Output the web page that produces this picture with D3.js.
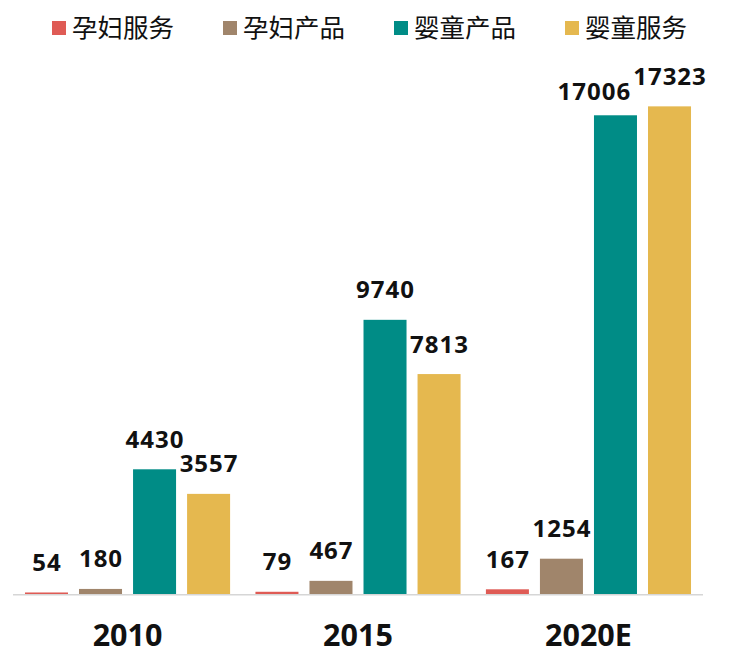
<!DOCTYPE html>
<html>
<head>
<meta charset="utf-8">
<script src="https://cdn.jsdelivr.net/npm/d3@7"></script>
<style>
  body { margin: 0; background: #fff; }
  text { font-family: "Open Sans", "Noto Sans", sans-serif; }
  .legend text { font-family: "Noto Sans CJK SC", sans-serif; }
</style>
</head>
<body>
<div id="chart"></div>
<script>
//data
var years = ["2010", "2015", "2020E"];
var seriesNames = ["孕妇服务", "孕妇产品", "婴童产品", "婴童服务"];
var seriesColors = ["#df5b55", "#a0856b", "#008c86", "#e5b84f"];
var pregnantService = [54, 79, 167];
var pregnantProduct = [180, 467, 1254];
var babyProduct = [4430, 9740, 17006];
var babyService = [3557, 7813, 17323];
var seriesValues = [pregnantService, pregnantProduct, babyProduct, babyService];

var width = 747, height = 671;

var svg = d3.select("#chart").append("svg")
    .attr("width", width)
    .attr("height", height);

//scales
var x0 = d3.scaleBand().domain(years).range([13, 703])
    .paddingInner(0.11).paddingOuter(0.052);
var x1 = d3.scaleBand().domain(d3.range(seriesNames.length)).range([0, x0.bandwidth()])
    .paddingInner(0.204);
var y = d3.scaleLinear().domain([0, 20000]).range([594, 31]);

//bars
var groups = svg.selectAll(".group")
    .data(years)
    .enter().append("g")
    .attr("class", "group")
    .attr("transform", d => "translate(" + x0(d) + ",0)");

groups.selectAll("rect")
    .data((d, gi) => seriesValues.map((s, si) => ({si: si, v: s[gi]})))
    .enter().append("rect")
    .attr("x", d => x1(d.si))
    .attr("width", x1.bandwidth())
    .attr("y", d => y(d.v))
    .attr("height", d => y(0) - y(d.v))
    .attr("fill", d => seriesColors[d.si]);

//value labels; when two collide the left one is nudged aside (like excel does)
groups.each(function(yr, gi) {
    var g = d3.select(this);
    var labels = seriesValues.map((s, si) => ({
        si: si, v: s[gi],
        x: x1(si) + x1.bandwidth() / 2 + 0.5,
        y: y(s[gi]) - 21.5
    }));
    var texts = g.selectAll(".val")
        .data(labels)
        .enter().append("text")
        .attr("class", "val")
        .attr("text-anchor", "middle")
        .attr("font-size", 24)
        .attr("font-weight", "bold")
        .attr("letter-spacing", 1)
        .attr("fill", "#111")
        .text(d => d.v);
    texts.each(function(d) { d.w = this.getComputedTextLength(); });
    for (var i = 1; i < labels.length; i++) {
        var a = labels[i - 1], b = labels[i];
        var overlapX = (a.x + a.w / 2) - (b.x - b.w / 2);
        if (overlapX > 0 && Math.abs(a.y - b.y) < 16) {
            a.x -= overlapX + 2;
            a.y += 6;
        }
    }
    texts.attr("x", d => d.x).attr("y", d => d.y);
});

//axis line
svg.append("line")
    .attr("x1", 13).attr("x2", 703)
    .attr("y1", y(0) + 0.75).attr("y2", y(0) + 0.75)
    .attr("stroke", "#d6d6d6")
    .attr("stroke-width", 1.5);

//category labels
svg.selectAll(".cat")
    .data(years)
    .enter().append("text")
    .attr("class", "cat")
    .attr("x", d => x0(d) + x0.bandwidth() / 2)
    .attr("y", 646)
    .attr("text-anchor", "middle")
    .attr("font-size", 30.5)
    .attr("font-weight", "bold")
    .attr("fill", "#111")
    .text(d => d);

//legend
var legend = svg.append("g").attr("class", "legend")
    .selectAll("g")
    .data(seriesNames)
    .enter().append("g")
    .attr("transform", (d, i) => "translate(" + (52 + i * 171) + ",0)");

legend.append("rect")
    .attr("x", 0).attr("y", 21)
    .attr("width", 14).attr("height", 14)
    .attr("fill", (d, i) => seriesColors[i]);

legend.append("text")
    .attr("x", 20)
    .attr("y", 37)
    .attr("font-size", 25.5)
    .attr("fill", "#111")
    .text(d => d);
</script>
</body>
</html>
